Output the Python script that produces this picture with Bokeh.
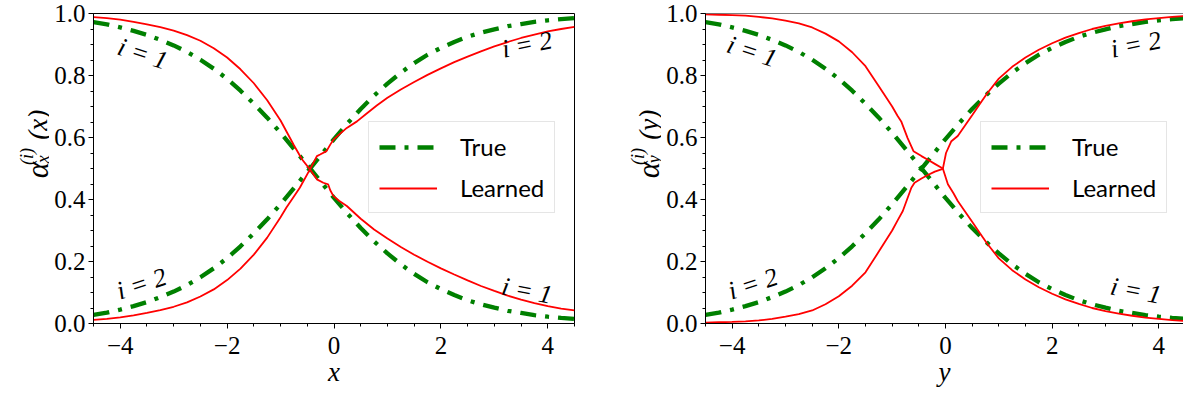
from bokeh.plotting import figure
from bokeh.layouts import row
from bokeh.models import (Range1d, FixedTicker, CustomJSTickFormatter, Label,
                          Legend, LegendItem, Span)
from bokeh.core.properties import value
from bokeh.embed import file_html
from bokeh.resources import INLINE

# ---------------- data ----------------
x_true = [-4.5, -4.25, -4.0, -3.75, -3.5, -3.25, -3.0, -2.75, -2.5, -2.25, -2.0,
          -1.75, -1.5, -1.25, -1.0, -0.75, -0.5, -0.25, 0.0, 0.25, 0.5, 0.75,
          1.0, 1.25, 1.5, 1.75, 2.0, 2.25, 2.5, 2.75, 3.0, 3.25, 3.5, 3.75,
          4.0, 4.25, 4.5]
true_i1 = [0.972, 0.965, 0.955, 0.944, 0.931, 0.915, 0.897, 0.876, 0.851, 0.822,
           0.789, 0.751, 0.709, 0.664, 0.615, 0.563, 0.511, 0.458, 0.405, 0.355,
           0.308, 0.265, 0.226, 0.191, 0.160, 0.133, 0.111, 0.092, 0.075, 0.062,
           0.051, 0.041, 0.034, 0.027, 0.022, 0.018, 0.015]
true_i2 = [0.028, 0.035, 0.045, 0.056, 0.069, 0.085, 0.103, 0.124, 0.149, 0.178,
           0.211, 0.249, 0.291, 0.336, 0.385, 0.437, 0.489, 0.542, 0.595, 0.645,
           0.692, 0.735, 0.774, 0.809, 0.840, 0.867, 0.889, 0.908, 0.925, 0.938,
           0.949, 0.959, 0.966, 0.973, 0.978, 0.982, 0.985]

# left panel (x), learned
lx_i1 = [-4.5, -4.25, -4.0, -3.75, -3.5, -3.25, -3.0, -2.75, -2.5, -2.25, -2.0,
         -1.75, -1.5, -1.25, -1.0, -0.75, -0.6, -0.45, -0.32, -0.2, -0.11, -0.07,
         -0.01, 0.1, 0.24, 0.5, 0.75, 1.0, 1.25, 1.5, 1.75, 2.0, 2.25, 2.5, 2.75,
         3.0, 3.25, 3.5, 3.75, 4.0, 4.25, 4.5]
ly_i1 = [0.988, 0.985, 0.980, 0.973, 0.965, 0.956, 0.945, 0.930, 0.912, 0.888,
         0.858, 0.820, 0.775, 0.720, 0.655, 0.575, 0.530, 0.497, 0.465, 0.454,
         0.449, 0.430, 0.411, 0.395, 0.379, 0.338, 0.303, 0.274, 0.247, 0.222,
         0.199, 0.178, 0.158, 0.139, 0.121, 0.105, 0.090, 0.077, 0.066, 0.056,
         0.048, 0.042]
lx_i2 = [-4.5, -4.25, -4.0, -3.75, -3.5, -3.25, -3.0, -2.75, -2.5, -2.25, -2.0,
         -1.75, -1.5, -1.25, -1.0, -0.89, -0.75, -0.64, -0.45, -0.32, -0.26, -0.14,
         -0.07, -0.01, 0.1, 0.24, 0.43, 0.6, 0.8, 1.0, 1.25, 1.5, 1.75, 2.0, 2.25,
         2.5, 2.75, 3.0, 3.25, 3.5, 3.75, 4.0, 4.25, 4.5]
ly_i2 = [0.012, 0.015, 0.020, 0.026, 0.034, 0.043, 0.054, 0.068, 0.087, 0.110,
         0.140, 0.177, 0.222, 0.277, 0.343, 0.374, 0.410, 0.438, 0.497, 0.540,
         0.545, 0.556, 0.577, 0.593, 0.610, 0.631, 0.652, 0.676, 0.703, 0.728,
         0.755, 0.779, 0.802, 0.823, 0.843, 0.861, 0.878, 0.894, 0.908, 0.921,
         0.932, 0.942, 0.950, 0.957]

# right panel (y), learned
ry_x_i1 = [-4.5, -4.25, -4.0, -3.75, -3.5, -3.25, -3.0, -2.75, -2.5, -2.25, -2.0,
           -1.75, -1.5, -1.25, -1.0, -0.9, -0.83, -0.71, -0.6, -0.45, -0.33, -0.2,
           -0.05, 0.045, 0.15, 0.23, 0.36, 0.5, 0.65, 0.78, 1.0, 1.25, 1.5, 1.75,
           2.0, 2.25, 2.5, 2.75, 3.0, 3.25, 3.5, 3.75, 4.0, 4.25, 4.5]
ry_v_i1 = [0.997, 0.996, 0.995, 0.993, 0.989, 0.984, 0.977, 0.968, 0.955, 0.935,
           0.910, 0.875, 0.830, 0.765, 0.700, 0.670, 0.652, 0.598, 0.556, 0.540,
           0.528, 0.515, 0.500, 0.449, 0.420, 0.395, 0.363, 0.328, 0.290, 0.258,
           0.210, 0.172, 0.142, 0.117, 0.096, 0.078, 0.063, 0.050, 0.040, 0.032,
           0.025, 0.019, 0.015, 0.011, 0.008]
ry_x_i2 = [-4.5, -4.25, -4.0, -3.75, -3.5, -3.25, -3.0, -2.75, -2.5, -2.25, -2.0,
           -1.75, -1.5, -1.25, -1.0, -0.9, -0.8, -0.64, -0.58, -0.45, -0.33, -0.2,
           -0.05, 0.01, 0.11, 0.23, 0.36, 0.5, 0.65, 0.78, 1.0, 1.25, 1.5, 1.75,
           2.0, 2.25, 2.5, 2.75, 3.0, 3.25, 3.5, 3.75, 4.0, 4.25, 4.5]
ry_v_i2 = [0.003, 0.004, 0.005, 0.007, 0.010, 0.015, 0.022, 0.030, 0.042, 0.062,
           0.088, 0.122, 0.165, 0.232, 0.300, 0.332, 0.363, 0.438, 0.454, 0.468,
           0.479, 0.490, 0.499, 0.550, 0.588, 0.605, 0.637, 0.672, 0.710, 0.742,
           0.790, 0.828, 0.858, 0.883, 0.904, 0.922, 0.937, 0.950, 0.960, 0.968,
           0.975, 0.981, 0.985, 0.989, 0.992]

x_major = [-4, -2, 0, 2, 4]
x_minor = [-4.5, -4.0, -3.5, -3.0, -2.5, -2.0, -1.5, -1.0, -0.5, 0.0, 0.5, 1.0,
           1.5, 2.0, 2.5, 3.0, 3.5, 4.0, 4.5]
y_major = [0.0, 0.2, 0.4, 0.6, 0.8, 1.0]
y_minor = [0.0, 0.05, 0.1, 0.15, 0.2, 0.25, 0.3, 0.35, 0.4, 0.45, 0.5, 0.55, 0.6,
           0.65, 0.7, 0.75, 0.8, 0.85, 0.9, 0.95, 1.0]

ann_text = ["i = 1", "i = 2", "i = 2", "i = 1"]
ann_x_left = [-3.58, -3.6, 3.61, 3.61]
ann_y_left = [0.87, 0.128, 0.90, 0.106]
ann_x_right = [-3.63, -3.61, 3.57, 3.57]
ann_y_right = [0.877, 0.128, 0.90, 0.106]
ann_angle = [-18, 18, 11, -11]

SERIF = "Liberation Serif"
SANS = "Lato"
FRAME_H = 310
TOP = 13
LBL_H = 393
BORDER_L = 44


def make_panel(xend, frame_w, border_right, var, lxa, lya, lxb, lyb, ax_, ay_,
               show_outline):
    p = figure(frame_width=frame_w, frame_height=FRAME_H,
               x_range=Range1d(-4.5, xend), y_range=Range1d(0, 1),
               output_backend="svg", toolbar_location=None,
               min_border_left=BORDER_L, min_border_right=border_right,
               min_border_top=TOP, min_border_bottom=70,
               background_fill_color="white", border_fill_color="white")
    p.grid.visible = False
    if show_outline:
        p.outline_line_color = "black"
        p.outline_line_width = 1
    else:
        p.outline_line_color = None
        p.add_layout(Span(location=1.0, dimension="width", line_color="black",
                          line_width=1))

    xa = p.xaxis[0]
    ya = p.yaxis[0]
    xa.ticker = FixedTicker(ticks=x_major, minor_ticks=x_minor)
    ya.ticker = FixedTicker(ticks=y_major, minor_ticks=y_minor)
    xa.formatter = CustomJSTickFormatter(
        code="return tick < 0 ? '\u2212' + (-tick).toString() : tick.toString();")
    ya.formatter = CustomJSTickFormatter(code="return tick.toFixed(1);")
    for a in (xa, ya):
        a.major_label_text_font = SERIF
        a.major_label_text_font_size = "25px"
        a.major_label_text_color = "black"
        a.axis_line_color = "black"
        a.major_tick_line_color = "black"
        a.minor_tick_line_color = "black"
        a.major_tick_out = 5
        a.major_tick_in = 0
        a.minor_tick_out = 3
        a.minor_tick_in = 0
    xa.major_label_standoff = 8
    ya.major_label_standoff = 3
    xa.axis_label = var
    xa.axis_label_text_font = SERIF
    xa.axis_label_text_font_style = "italic"
    xa.axis_label_text_font_size = "27px"
    xa.axis_label_text_color = "black"
    xa.axis_label_standoff = 0

    g1 = p.line(x_true, true_i1, line_color="green", line_width=4.3,
                line_dash="16 9 4 9")
    p.line(x_true, true_i2, line_color="green", line_width=4.3,
           line_dash="16 9 4 9")
    r1 = p.line(lxa, lya, line_color="red", line_width=1.8)
    p.line(lxb, lyb, line_color="red", line_width=1.8)

    legend = Legend(items=[LegendItem(label="True", renderers=[g1]),
                           LegendItem(label="Learned", renderers=[r1])],
                    location=(275, 110), orientation="vertical",
                    glyph_width=58, glyph_height=28, label_height=28,
                    label_standoff=23, padding=10, spacing=12, margin=0,
                    label_text_font=SANS, label_text_font_size="24px",
                    label_text_color="black",
                    border_line_color="#cccccc", border_line_width=1,
                    background_fill_color="white", background_fill_alpha=0.8)
    p.add_layout(legend)

    for t, x, y, a in zip(ann_text, ax_, ay_, ann_angle):
        p.add_layout(Label(x=x, y=y, text=t, angle=a, angle_units="deg",
                           text_align="center", text_baseline="middle",
                           text_font=SERIF, text_font_style="italic",
                           text_font_size="26px", text_color="black"))
    return p


def make_ylabel(width, shift, var):
    # small strip left of a panel carrying the rotated label alpha_var^{(i)}(var)
    q = figure(width=width, height=LBL_H, x_range=Range1d(0, width),
               y_range=Range1d(0, LBL_H), x_axis_type=None, y_axis_type=None,
               output_backend="svg", toolbar_location=None, min_border=0,
               background_fill_color="white", border_fill_color="white")
    q.outline_line_color = None
    q.grid.visible = False

    def put(txt, px, py, size):
        q.text(x=[px - shift], y=[LBL_H - py], text=[txt], angle=90,
               angle_units="deg", text_align="left", text_baseline="alphabetic",
               text_font=value(SERIF), text_font_style="italic",
               text_font_size=size, text_color="black")

    put("\u03b1", 37, 209, "31px")
    put(var, 42, 190, "18px")
    put("(i)", 26, 192, "18px")
    put("(" + var + ")", 37, 160, "27px")
    return q


p1 = make_panel(4.5, 481, 38, "x", lx_i1, ly_i1, lx_i2, ly_i2,
                ann_x_left, ann_y_left, True)
p2 = make_panel(4.463, 478, 0, "y", ry_x_i1, ry_v_i1, ry_x_i2, ry_v_i2,
                ann_x_right, ann_y_right, False)
q1 = make_ylabel(49, 0, "x")
q2 = make_ylabel(49, 0.6, "y")

layout = row(q1, p1, q2, p2)
open("out.html", "w").write(file_html(layout, INLINE))
